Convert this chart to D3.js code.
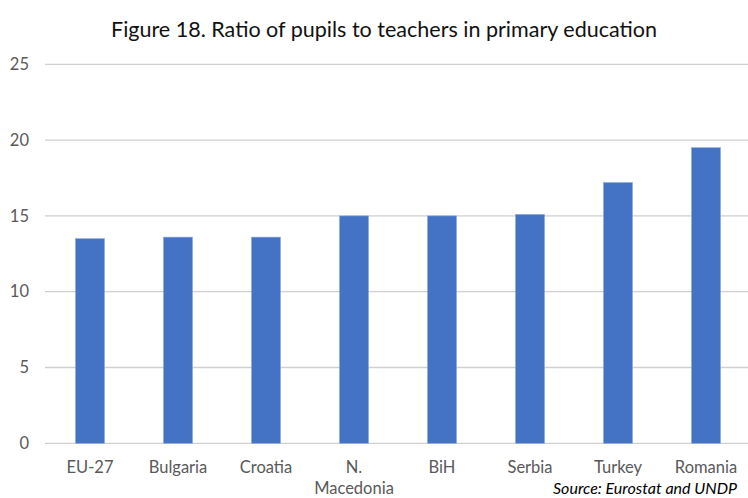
<!DOCTYPE html>
<html>
<head>
<meta charset="utf-8">
<script src="https://cdn.jsdelivr.net/npm/d3@7"></script>
<style>
  html, body { margin: 0; padding: 0; background: #fff; }
  svg { display: block; }
  text { font-family: Lato, "Open Sans", sans-serif; }
</style>
</head>
<body>
<svg id="chart" width="748" height="498"></svg>
<script>
// Pupils per teacher, primary education
const categories = ["EU-27", "Bulgaria", "Croatia", "N.|Macedonia", "BiH", "Serbia", "Turkey", "Romania"];
const ratios = [13.5, 13.6, 13.6, 15.0, 15.0, 15.1, 17.2, 19.5];
const yTicks = [0, 5, 10, 15, 20, 25];

const svg = d3.select("#chart");
const margin = { left: 46, right: -2, top: 64.3, bottom: 443.3 };

const x = d3.scaleBand()
  .domain(categories)
  .range([margin.left, 748 - margin.right])
  .paddingInner(0.67)
  .paddingOuter(0.335);

const y = d3.scaleLinear().domain([0, 25]).range([margin.bottom, margin.top]);

// Title
svg.append("text")
  .attr("x", 384).attr("y", 37)
  .attr("text-anchor", "middle")
  .attr("font-size", 21.5)
  .attr("fill", "#111")
  .attr("textLength", 546)
  .attr("lengthAdjust", "spacingAndGlyphs")
  .text("Figure 18. Ratio of pupils to teachers in primary education");

// Gridlines
svg.append("g")
  .selectAll("line")
  .data(yTicks)
  .join("line")
  .attr("x1", 45).attr("x2", 748)
  .attr("y1", d => y(d)).attr("y2", d => y(d))
  .attr("stroke", "#d0d0d0")
  .attr("stroke-width", 1.3);

// Y axis labels
const yAxis = d3.axisLeft(y).tickValues(yTicks).tickSize(0).tickPadding(0);
const gy = svg.append("g").attr("transform", "translate(29,0)").call(yAxis);
gy.select(".domain").remove();
gy.selectAll("text")
  .attr("font-family", "Lato, 'Open Sans', sans-serif")
  .attr("font-size", 16.5)
  .attr("fill", "#595959");

// Bars
svg.append("g")
  .selectAll("rect")
  .data(categories.map((c, i) => ({ c, v: ratios[i] })))
  .join("rect")
  .attr("x", d => x(d.c))
  .attr("width", x.bandwidth())
  .attr("y", d => y(d.v))
  .attr("height", d => y(0) - y(d.v))
  .attr("fill", "#4472C4")
  .attr("stroke", "#8eaadb")
  .attr("stroke-width", 0.6);

// Category labels (multi-line where split by "|")
const xl = svg.append("g");
categories.forEach(c => {
  const lines = c.split("|");
  const t = xl.append("text")
    .attr("x", x(c) + x.bandwidth() / 2)
    .attr("y", 473)
    .attr("text-anchor", "middle")
    .attr("font-size", 16.5)
    .attr("fill", "#595959");
  lines.forEach((ln, i) => {
    t.append("tspan")
      .attr("x", x(c) + x.bandwidth() / 2)
      .attr("dy", i === 0 ? 0 : 21)
      .text(ln);
  });
});

// Source note
svg.append("text")
  .attr("x", 737).attr("y", 494)
  .attr("text-anchor", "end")
  .attr("font-size", 14.5)
  .attr("font-style", "italic")
  .attr("fill", "#000")
  .attr("textLength", 184)
  .attr("lengthAdjust", "spacingAndGlyphs")
  .text("Source: Eurostat and UNDP");
</script>
</body>
</html>
